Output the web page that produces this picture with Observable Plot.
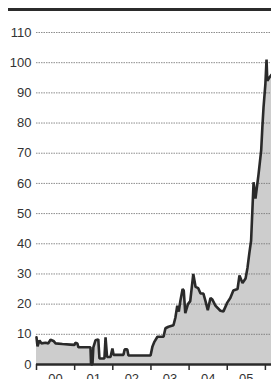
<!DOCTYPE html>
<html>
<head>
<meta charset="utf-8">
<script src="https://cdn.jsdelivr.net/npm/d3@7"></script>
<script src="https://cdn.jsdelivr.net/npm/@observablehq/plot@0.6"></script>
<style>
  html, body { margin: 0; padding: 0; background: #fff; overflow: hidden; }
  #wrap { position: relative; width: 271px; height: 379px; }
  #bar { position: absolute; left: 8px; top: 8px; width: 263px; height: 3px; background: #2b2b2b; }
</style>
</head>
<body>
<div id="wrap"><div id="bar"></div></div>
<script>
// decimal year of each observation
const years = [
  2000.00, 2000.026, 2000.079, 2000.13, 2000.236, 2000.31, 2000.367, 2000.445, 2000.50, 2000.68,
  2000.89, 2000.996, 2001.02, 2001.07, 2001.10, 2001.415, 2001.43, 2001.467, 2001.49, 2001.546,
  2001.62, 2001.65, 2001.78, 2001.81, 2001.85, 2001.94, 2001.99, 2002.02, 2002.28, 2002.31,
  2002.38, 2002.41, 2002.99, 2003.04, 2003.09, 2003.17, 2003.33, 2003.38, 2003.46, 2003.59,
  2003.64, 2003.69, 2003.73, 2003.77, 2003.83, 2003.86, 2003.90, 2003.97, 2004.03, 2004.11,
  2004.17, 2004.24, 2004.30, 2004.375, 2004.43, 2004.49, 2004.56, 2004.61, 2004.69, 2004.82,
  2004.90, 2005.00, 2005.08, 2005.16, 2005.27, 2005.32, 2005.40, 2005.48, 2005.53, 2005.58,
  2005.625, 2005.69, 2005.74, 2005.82, 2005.89, 2005.92, 2005.95, 2006.00, 2006.03, 2006.05,
  2006.10, 2006.16
];
const values = [
  9, 6, 8, 7, 7.2, 7, 8.2, 7.8, 7, 6.8,
  6.6, 6.5, 7.2, 7, 5.7, 5.7, 0, 0, 5.7, 8,
  8.3, 2, 2, 9, 2.5, 2.5, 5.3, 3.2, 3.2, 5,
  5, 3, 3, 6, 7.5, 9.2, 9.2, 12, 12.5, 13,
  15.5, 19.5, 17.5, 21, 25, 24.5, 17, 20, 21, 30,
  25.7, 25.3, 23.5, 23.5, 21, 18, 22, 21.5, 19.5, 17.8,
  17.6, 20.5, 22, 24.5, 25, 29.5, 27, 28.5, 32, 37,
  41, 60.4, 55, 63, 71, 78.5, 85, 93, 101, 94,
  95, 96
];
const yTicks = [0, 10, 20, 30, 40, 50, 60, 70, 80, 90, 100, 110];
const gridTicks = [10, 20, 30, 40, 50, 60, 70, 80, 90, 100, 110];
const yearTicks = [2000, 2001, 2002, 2003, 2004, 2005, 2006];
const yearLabels = ["00", "01", "02", "03", "04", "05"];
const yearMids = [2000.5, 2001.5, 2002.5, 2003.5, 2004.5, 2005.5];

const data = years.map((t, i) => ({t, v: values[i]}));

const chart = Plot.plot({
  width: 271,
  height: 379,
  marginLeft: 36,
  marginRight: 0,
  marginTop: 32,
  marginBottom: 15,
  style: {fontFamily: "Liberation Sans, Arial, sans-serif", color: "#333", background: "transparent"},
  x: {domain: [2000, 2006.16]},
  y: {domain: [0, 110]},
  marks: [
    Plot.areaY(data, {x: "t", y: "v", fill: "#cdcdcd"}),
    Plot.gridY(gridTicks, {stroke: "#707070", strokeOpacity: 1, strokeWidth: 0.8, strokeDasharray: "1.5,1"}),
    Plot.lineY(data, {x: "t", y: "v", stroke: "#2a2a2a", strokeWidth: 2.6, strokeLinejoin: "miter"}),
    Plot.ruleY([0], {stroke: "#2a2a2a", strokeWidth: 2.6}),
    Plot.axisY({ticks: yTicks, tickSize: 0, tickPadding: 5, fontSize: 13, label: null, fill: "#333"}),
    Plot.axisX({ticks: yearTicks, tickSize: 6, strokeWidth: 1.5, stroke: "#2a2a2a", tickFormat: () => "", label: null}),
    Plot.axisX({ticks: yearMids, tickSize: 0, tickPadding: 9, fontSize: 13, fill: "#333",
      tickFormat: (d) => yearLabels[Math.floor(d) - 2000], label: null})
  ]
});
document.getElementById("wrap").prepend(chart);
</script>
</body>
</html>
